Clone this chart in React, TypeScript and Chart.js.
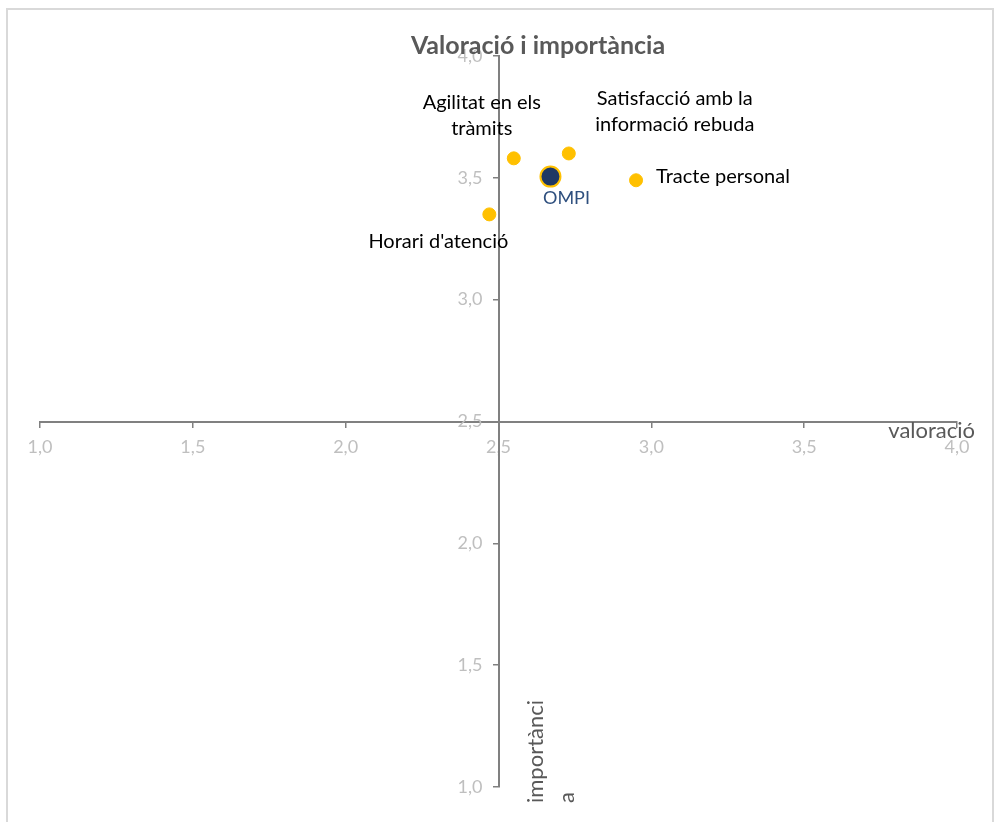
import React, { useEffect, useRef } from "react";
import { Chart, registerables } from "chart.js";

Chart.register(...registerables);

const chartTitle = "Valoració i importància";
const xAxisTitle = "valoració";
const yAxisTitleLines = ["importànci", "a"];

const itemLabels = [
  ["Agilitat en els", "tràmits"],
  ["Satisfacció amb la", "informació rebuda"],
  ["Tracte personal"],
  ["Horari d'atenció"],
];
const itemValoracio = [2.55, 2.73, 2.95, 2.47];
const itemImportancia = [3.58, 3.6, 3.49, 3.35];

const ompiLabel = "OMPI";
const ompiValoracio = [2.67];
const ompiImportancia = [3.505];

const axisMin = 1;
const axisMax = 4;
const axisStep = 0.5;
const axisCross = 2.5;

// label offsets (style): [dx, dy of first line, align]
const labelStyle: [number, number, CanvasTextAlign][] = [
  [-32, -56, "center"],
  [106, -55, "center"],
  [20, -4, "left"],
  [-51, 27, "center"],
];

const FONT = "Lato, 'Open Sans', sans-serif";
const fmt = (v: number) => v.toFixed(1).replace(".", ",");

const overlayPlugin = {
  id: "overlay",
  afterDraw(chart: any) {
    const ctx = chart.ctx;
    const xs = chart.scales.x;
    const ys = chart.scales.y;
    const axisY = ys.getPixelForValue(axisCross);
    const axisX = xs.getPixelForValue(axisCross);
    ctx.save();

    // y tick labels
    ctx.fillStyle = "#BFBFBF";
    ctx.font = `18px ${FONT}`;
    ctx.textAlign = "right";
    ctx.textBaseline = "middle";
    ys.ticks.forEach((t: any) => {
      ctx.fillText(fmt(t.value), axisX - 16, ys.getPixelForValue(t.value));
    });

    // title
    ctx.fillStyle = "#595959";
    ctx.font = `bold 25px ${FONT}`;
    ctx.textAlign = "center";
    ctx.fillText(chartTitle, 538, 46);

    // item labels
    ctx.fillStyle = "#000000";
    ctx.font = `20px ${FONT}`;
    const meta0 = chart.getDatasetMeta(0);
    meta0.data.forEach((pt: any, i: number) => {
      const [dx, dy, align] = labelStyle[i];
      ctx.textAlign = align;
      itemLabels[i].forEach((line, j) => {
        ctx.fillText(line, pt.x + dx, pt.y + dy + j * 26);
      });
    });
    // OMPI label
    const meta1 = chart.getDatasetMeta(1);
    const op = meta1.data[0];
    ctx.fillStyle = "#2E4F7E";
    ctx.font = `18px ${FONT}`;
    ctx.textAlign = "center";
    ctx.fillText(ompiLabel, op.x + 16, op.y + 22);

    // axis titles
    ctx.fillStyle = "#595959";
    ctx.font = `22px ${FONT}`;
    ctx.textAlign = "right";
    ctx.fillText(xAxisTitle, xs.right + 18, axisY + 9);

    ctx.translate(axisX + 37, chart.chartArea.bottom + 16);
    ctx.rotate(-Math.PI / 2);
    ctx.textAlign = "left";
    yAxisTitleLines.forEach((line, j) => {
      ctx.fillText(line, 0, j * 31);
    });
    ctx.restore();
  },
};

export default function App() {
  const ref = useRef<HTMLCanvasElement>(null);
  useEffect(() => {
    if (!ref.current) return;
    const tickFont = { family: FONT, size: 18 };
    const chart = new Chart(ref.current, {
      type: "scatter",
      data: {
        datasets: [
          {
            label: "items",
            data: itemValoracio.map((v, i) => ({ x: v, y: itemImportancia[i] })),
            backgroundColor: "#FFC000",
            borderColor: "#FFC000",
            pointRadius: 6.5,
            pointHoverRadius: 6.5,
          },
          {
            label: ompiLabel,
            data: ompiValoracio.map((v, i) => ({ x: v, y: ompiImportancia[i] })),
            backgroundColor: "#1F3864",
            borderColor: "#FFC000",
            borderWidth: 2,
            pointRadius: 10,
            pointHoverRadius: 10,
          },
        ],
      },
      options: {
        animation: false,
        responsive: false,
        events: [],
        layout: { padding: { left: 40, right: 38, top: 56, bottom: 35 } },
        plugins: {
          legend: { display: false },
          title: { display: false },
          tooltip: { enabled: false },
        },
        scales: {
          x: {
            type: "linear",
            min: axisMin,
            max: axisMax,
            position: { y: axisCross } as any,
            border: { color: "#808080", width: 2 },
            grid: { drawOnChartArea: false, drawTicks: true, tickLength: 5, color: "#808080", lineWidth: 1.5 },
            ticks: {
              stepSize: axisStep,
              color: "#BFBFBF",
              font: tickFont,
              padding: 10,
              maxRotation: 0,
              callback: (v: any) => fmt(Number(v)),
            },
          },
          y: {
            type: "linear",
            min: axisMin,
            max: axisMax,
            position: { x: axisCross } as any,
            border: { color: "#808080", width: 2 },
            grid: { drawOnChartArea: false, drawTicks: true, tickLength: 5, color: "#808080", lineWidth: 1.5 },
            ticks: {
              display: false,
              stepSize: axisStep,
              font: tickFont,
            },
          },
        },
      },
      plugins: [overlayPlugin],
    });
    return () => chart.destroy();
  }, []);

  return (
    <div style={{ position: "fixed", left: 0, top: 0, width: 995, height: 822, background: "#fff" }}>
      <div
        style={{
          position: "absolute",
          left: 6,
          top: 8,
          width: 988,
          height: 900,
          boxSizing: "border-box",
          border: "2px solid #D9D9D9",
        }}
      />
      <canvas ref={ref} width={995} height={822} style={{ position: "absolute", left: 0, top: 0 }} />
    </div>
  );
}
